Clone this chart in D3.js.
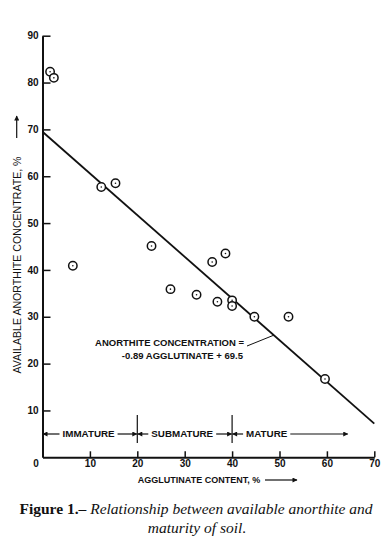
<!DOCTYPE html>
<html lang="en">
<head>
  <meta charset="UTF-8">
  <title>Figure 1 - Available anorthite and maturity of soil</title>
  <style>
    body {
      margin: 0;
      background-color: #fff;
    }
    svg {
      display: block;
    }
    .label {
      font-family: "Liberation Sans", Arial, Helvetica, sans-serif;
      font-weight: bold;
      fill: #111;
    }
    .caption {
      font-family: "Liberation Serif", "Times New Roman", serif;
      font-size: 15.5px;
      fill: #111;
    }
  </style>
</head>
<body>
  <div id="chart"></div>

  <script src="https://d3js.org/d3.v7.min.js"></script>
  <script>
    // Data
    const agglutinate = [1.6, 2.4, 6.4, 12.4, 15.4, 23.0, 27.0, 32.5, 35.8, 36.9, 38.6, 40.0, 40.0, 44.7, 51.9, 59.6];
    const anorthite   = [82.3, 81.0, 40.9, 57.7, 58.5, 45.1, 35.9, 34.7, 41.7, 33.2, 43.5, 33.5, 32.3, 30.0, 30.0, 16.7];

    // Fitted line: anorthite = slope * agglutinate + intercept
    const slope = -0.89;
    const intercept = 69.5;
    const fitRange = [0, 70];

    // Maturity classes along the x axis
    const maturityNames = ["IMMATURE", "SUBMATURE", "MATURE"];
    const maturityBounds = [0, 20, 40, 64.5];

    const xTicks = [0, 10, 20, 30, 40, 50, 60, 70];
    const yTicks = [10, 20, 30, 40, 50, 60, 70, 80, 90];

    const W = 390, H = 545;
    const x0 = 42.5, x1 = 374.3;   // pixel extent of x axis
    const yBottom = 457.3, yTop = 35.7;

    const xScale = d3.scaleLinear().domain([0, 70]).range([x0, x1]);
    const yScale = d3.scaleLinear().domain([0, 90]).range([yBottom, yTop]);

    const svg = d3.select("#chart")
      .append("svg")
      .attr("width", W)
      .attr("height", H);

    // arrow head marker
    svg.append("defs").append("marker")
      .attr("id", "head")
      .attr("viewBox", "0 0 10 10")
      .attr("refX", 9)
      .attr("refY", 5)
      .attr("markerWidth", 7)
      .attr("markerHeight", 5)
      .attr("markerUnits", "userSpaceOnUse")
      .attr("orient", "auto")
      .append("path")
      .attr("d", "M0,0 L10,5 L0,10 Z")
      .attr("fill", "#111");

    // X axis (ticks point up)
    const xAxis = svg.append("g")
      .attr("transform", `translate(0,${yBottom})`)
      .call(d3.axisBottom(xScale).tickValues(xTicks).tickSize(-6).tickSizeOuter(0).tickPadding(3));

    // Y axis (ticks point right)
    const yAxis = svg.append("g")
      .attr("transform", `translate(${x0},0)`)
      .call(d3.axisLeft(yScale).tickValues(yTicks).tickSize(-8).tickSizeOuter(0).tickPadding(4));

    [xAxis, yAxis].forEach(g => {
      g.select(".domain").attr("stroke", "#111").attr("stroke-width", 2);
      g.selectAll(".tick line").attr("stroke", "#111").attr("stroke-width", 1.5);
      g.selectAll(".tick text")
        .attr("class", "label")
        .style("font-size", "10px")
        .attr("fill", "#111");
    });
    // the "0" sits left of the origin
    xAxis.selectAll(".tick").filter(d => d === 0).select("text").attr("x", -7);
    xAxis.selectAll(".tick").filter(d => d === 0).select("line").remove();

    // Axis titles
    svg.append("text")
      .attr("class", "label")
      .attr("x", 199)
      .attr("y", 483)
      .attr("text-anchor", "middle")
      .style("font-size", "9px")
      .text("AGGLUTINATE CONTENT, %");
    svg.append("line")
      .attr("x1", 265).attr("x2", 297)
      .attr("y1", 480).attr("y2", 480)
      .attr("stroke", "#111").attr("stroke-width", 1.2)
      .attr("marker-end", "url(#head)");

    svg.append("text")
      .attr("class", "label")
      .attr("transform", "translate(20.5,265) rotate(-90)")
      .attr("text-anchor", "middle")
      .style("font-size", "10.6px")
      .style("font-weight", "normal")
      .text("AVAILABLE ANORTHITE CONCENTRATE, %");
    svg.append("line")
      .attr("x1", 16.7).attr("x2", 16.7)
      .attr("y1", 138).attr("y2", 116)
      .attr("stroke", "#111").attr("stroke-width", 1.2)
      .attr("marker-end", "url(#head)");

    // Regression line
    svg.append("line")
      .attr("x1", xScale(fitRange[0]))
      .attr("y1", yScale(slope * fitRange[0] + intercept))
      .attr("x2", xScale(fitRange[1]))
      .attr("y2", yScale(slope * fitRange[1] + intercept))
      .attr("stroke", "#111")
      .attr("stroke-width", 1.8);

    // Equation label with leader
    const eqX = 244;
    svg.append("text")
      .attr("class", "label")
      .attr("x", eqX).attr("y", 346)
      .attr("text-anchor", "end")
      .style("font-size", "9.5px")
      .text("ANORTHITE CONCENTRATION =");
    svg.append("text")
      .attr("class", "label")
      .attr("x", eqX - 1).attr("y", 359)
      .attr("text-anchor", "end")
      .style("font-size", "9.5px")
      .text("-0.89 AGGLUTINATE + 69.5");
    const leaderAt = 48.8;
    svg.append("line")
      .attr("x1", eqX + 3).attr("y1", 346)
      .attr("x2", xScale(leaderAt))
      .attr("y2", yScale(slope * leaderAt + intercept))
      .attr("stroke", "#111")
      .attr("stroke-width", 1);

    // Data points: open circles with a dot in the middle
    const points = agglutinate.map((a, i) => ({ x: a, y: anorthite[i] }));
    const pts = svg.selectAll(".pt")
      .data(points)
      .enter()
      .append("g")
      .attr("class", "pt")
      .attr("transform", d => `translate(${xScale(d.x)},${yScale(d.y)})`);
    pts.append("circle")
      .attr("r", 4.2)
      .attr("fill", "#fff")
      .attr("stroke", "#111")
      .attr("stroke-width", 1.5);
    pts.append("circle")
      .attr("r", 0.8)
      .attr("fill", "#111");

    // Maturity bands along the bottom
    const bandY = 434;
    const dividers = maturityBounds.slice(1, 3);
    svg.selectAll(".divider")
      .data(dividers)
      .enter()
      .append("line")
      .attr("class", "divider")
      .attr("x1", d => xScale(d)).attr("x2", d => xScale(d))
      .attr("y1", 415).attr("y2", 443)
      .attr("stroke", "#111")
      .attr("stroke-width", 1.2);

    maturityNames.forEach((name, i) => {
      const lo = xScale(maturityBounds[i]);
      const hi = xScale(maturityBounds[i + 1]);
      const t = svg.append("text")
        .attr("class", "label")
        .attr("y", bandY + 3.4)
        .style("font-size", "9.8px")
        .text(name);
      const w = t.node().getComputedTextLength();
      // label starts a bit past the left boundary
      const start = i === 0 ? lo + 20 : lo + 14;
      t.attr("x", start);
      // arrow pointing left to the boundary
      svg.append("line")
        .attr("x1", start - 3).attr("x2", lo + 0.5)
        .attr("y1", bandY).attr("y2", bandY)
        .attr("stroke", "#111").attr("stroke-width", 1.2)
        .attr("marker-end", "url(#head)");
      // arrow pointing right to the next boundary
      svg.append("line")
        .attr("x1", start + w + 3).attr("x2", hi - 0.5)
        .attr("y1", bandY).attr("y2", bandY)
        .attr("stroke", "#111").attr("stroke-width", 1.2)
        .attr("marker-end", "url(#head)");
    });

    // Caption
    const cap1 = svg.append("text")
      .attr("class", "caption")
      .attr("x", 196).attr("y", 514)
      .attr("text-anchor", "middle");
    cap1.append("tspan").style("font-weight", "bold").text("Figure 1.\u2013 ");
    cap1.append("tspan").style("font-style", "italic").text("Relationship between available anorthite and");
    svg.append("text")
      .attr("class", "caption")
      .attr("x", 197).attr("y", 533)
      .attr("text-anchor", "middle")
      .style("font-style", "italic")
      .text("maturity of soil.");
  </script>
</body>
</html>
